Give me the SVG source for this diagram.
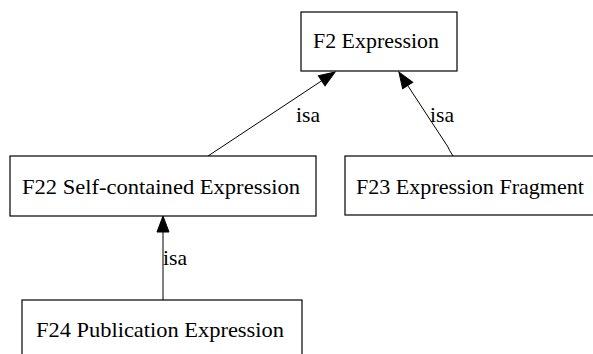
<svg xmlns="http://www.w3.org/2000/svg" width="593" height="354" viewBox="0 0 593 354">
<style>
.box{fill:#fff;stroke:#000;stroke-width:1.2}
.lbl{font-family:'Liberation Serif','DejaVu Serif',serif;font-size:22px;fill:#000}
.edge{fill:none;stroke:#000;stroke-width:1}
</style>
<defs>
<marker id="arr" markerUnits="userSpaceOnUse" markerWidth="17" markerHeight="13" refX="0" refY="6" orient="auto" overflow="visible">
<path d="M0,0 L16,6 L0,12 z" fill="#000" stroke="#000" stroke-width="1"/>
</marker>
</defs>
<rect width="593" height="354" fill="#fff"/>
<g id="connectors">
<line class="edge" x1="163" y1="300" x2="163" y2="232" marker-end="url(#arr)"/>
<text class="lbl" x="163" y="265" textLength="24" lengthAdjust="spacingAndGlyphs">isa</text>
<line class="edge" x1="208" y1="156" x2="321.7" y2="80.8" marker-end="url(#arr)"/>
<text class="lbl" x="296" y="122" textLength="24" lengthAdjust="spacingAndGlyphs">isa</text>
<path class="edge" d="M453,156 Q449,150 448,147 L407.7,85.5" marker-end="url(#arr)"/>
<text class="lbl" x="430" y="122" textLength="24" lengthAdjust="spacingAndGlyphs">isa</text>
</g>
<g id="F2">
<rect class="box" x="301" y="12" width="156" height="59"/>
<text class="lbl" x="313" y="48" textLength="126" lengthAdjust="spacingAndGlyphs">F2 Expression</text>
</g>
<g id="F22">
<rect class="box" x="10" y="156" width="306" height="60"/>
<text class="lbl" x="22" y="194" textLength="278" lengthAdjust="spacingAndGlyphs">F22 Self-contained Expression</text>
</g>
<g id="F23">
<rect class="box" x="345" y="156" width="250" height="59"/>
<text class="lbl" x="356" y="194" textLength="228" lengthAdjust="spacingAndGlyphs">F23 Expression Fragment</text>
</g>
<g id="F24">
<rect class="box" x="22" y="300" width="280" height="60"/>
<text class="lbl" x="36" y="337" textLength="248" lengthAdjust="spacingAndGlyphs">F24 Publication Expression</text>
</g>
</svg>
